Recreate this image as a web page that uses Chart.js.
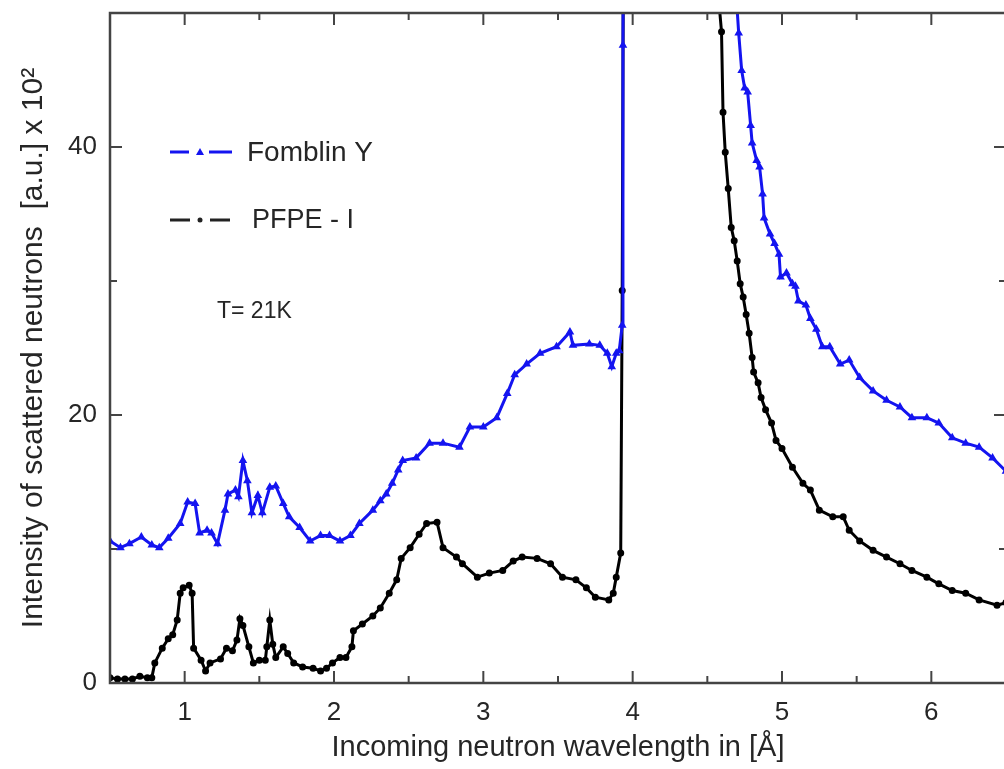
<!DOCTYPE html>
<html>
<head>
<meta charset="utf-8">
<script src="https://cdn.jsdelivr.net/npm/chart.js@4.4.1/dist/chart.umd.min.js"></script>
<style>
  html, body { margin: 0; padding: 0; background: #fff; overflow: hidden; }
  #wrap { width: 1004px; height: 769px; overflow: hidden; }
  canvas { display: block; }
</style>
</head>
<body>
<div id="wrap"><canvas id="c" width="1012" height="769"></canvas></div>
<script>
// wavelength in Angstrom, intensity in a.u. x 10^2 (values above 50 run off the top)
const fomblinX = [0.50, 0.57, 0.63, 0.71, 0.78, 0.83, 0.89, 0.97, 1.02, 1.07, 1.10, 1.15, 1.18, 1.22,
  1.27, 1.29, 1.34, 1.36, 1.39, 1.42, 1.45, 1.49, 1.52, 1.57, 1.61, 1.66, 1.70, 1.77, 1.84, 1.91,
  1.97, 2.04, 2.11, 2.17, 2.26, 2.31, 2.35, 2.39, 2.43, 2.46, 2.55, 2.64, 2.73, 2.84, 2.91, 3.00,
  3.09, 3.16, 3.21, 3.29, 3.38, 3.49, 3.58, 3.60, 3.71, 3.78, 3.83, 3.86, 3.89, 3.91, 3.93, 3.935,
  3.95, 4.30, 4.67, 4.70, 4.71, 4.73, 4.75, 4.77, 4.79, 4.80, 4.83, 4.85, 4.87, 4.88, 4.92, 4.95,
  4.98, 4.99, 5.03, 5.07, 5.09, 5.11, 5.16, 5.19, 5.23, 5.27, 5.32, 5.39, 5.45, 5.52, 5.61, 5.70,
  5.79, 5.87, 5.97, 6.05, 6.14, 6.23, 6.32, 6.41, 6.50];
const fomblinY = [10.6, 10.1, 10.4, 10.9, 10.3, 10.1, 10.8, 11.9, 13.5, 13.4, 11.2, 11.4, 11.2, 10.4,
  12.9, 14.1, 14.4, 13.9, 16.6, 15.1, 12.7, 14.0, 12.7, 14.6, 14.7, 13.4, 12.4, 11.6, 10.6, 11.0,
  11.0, 10.6, 11.0, 11.9, 12.9, 13.6, 14.1, 14.9, 15.9, 16.6, 16.8, 17.9, 17.9, 17.6, 19.1, 19.1,
  19.8, 21.6, 23.0, 23.8, 24.6, 25.1, 26.2, 25.2, 25.3, 25.2, 24.6, 23.6, 24.6, 24.8, 26.7, 47.6,
  95, 140, 95, 50.2, 48.5, 45.7, 44.4, 44.1, 41.6, 40.3, 39.0, 38.5, 36.5, 34.7, 33.5, 32.8,
  32.0, 30.3, 30.6, 29.8, 29.6, 28.5, 28.2, 27.2, 26.4, 25.1, 25.1, 23.8, 24.1, 22.8, 21.8, 21.1,
  20.6, 19.8, 19.8, 19.4, 18.3, 17.9, 17.6, 16.8, 15.8];

const pfpeX = [0.50, 0.55, 0.60, 0.65, 0.70, 0.75, 0.78, 0.80, 0.85, 0.89, 0.92, 0.95, 0.97, 0.99,
  1.03, 1.05, 1.06, 1.11, 1.14, 1.17, 1.24, 1.28, 1.32, 1.35, 1.37, 1.39, 1.43, 1.46, 1.50, 1.54,
  1.55, 1.57, 1.59, 1.61, 1.66, 1.69, 1.73, 1.79, 1.86, 1.91, 1.95, 1.99, 2.04, 2.08, 2.12, 2.13,
  2.19, 2.26, 2.31, 2.37, 2.42, 2.45, 2.51, 2.57, 2.62, 2.69, 2.73, 2.82, 2.86, 2.96, 3.04, 3.13,
  3.20, 3.26, 3.36, 3.45, 3.53, 3.62, 3.69, 3.75, 3.84, 3.87, 3.89, 3.92, 3.93, 3.95, 4.25, 4.55,
  4.58, 4.595, 4.605, 4.62, 4.64, 4.66, 4.68, 4.70, 4.72, 4.74, 4.76, 4.78, 4.80, 4.81, 4.84, 4.86,
  4.89, 4.93, 4.96, 5.00, 5.07, 5.14, 5.19, 5.25, 5.34, 5.41, 5.45, 5.52, 5.61, 5.70, 5.79, 5.87,
  5.97, 6.05, 6.14, 6.23, 6.32, 6.44, 6.50];
const pfpeY = [0.4, 0.3, 0.3, 0.3, 0.5, 0.4, 0.4, 1.5, 2.6, 3.3, 3.6, 4.7, 6.7, 7.1,
  7.3, 6.7, 2.6, 1.7, 0.9, 1.5, 1.8, 2.6, 2.4, 3.2, 4.8, 4.3, 2.7, 1.5, 1.7, 1.7,
  2.7, 4.7, 2.9, 1.9, 2.7, 2.2, 1.5, 1.2, 1.1, 0.9, 1.1, 1.5, 1.9, 1.9, 2.7, 3.9,
  4.4, 5.0, 5.6, 6.7, 7.7, 9.3, 10.1, 11.1, 11.9, 12.0, 10.1, 9.4, 8.9, 7.9, 8.2, 8.4,
  9.1, 9.4, 9.3, 8.9, 7.9, 7.7, 7.1, 6.4, 6.2, 6.7, 7.9, 9.7, 29.3, 95, 140, 90,
  50.5, 48.6, 42.6, 39.6, 36.9, 34.0, 33.0, 31.5, 29.8, 28.8, 27.5, 26.1, 24.3, 23.2, 22.4, 21.3,
  20.4, 19.4, 18.1, 17.5, 16.1, 14.9, 14.4, 12.9, 12.4, 12.4, 11.4, 10.6, 9.9, 9.4, 8.9, 8.4,
  7.9, 7.4, 6.9, 6.7, 6.2, 5.8, 6.0];

const xLabelled = [1, 2, 3, 4, 5, 6];
const yLabelled = [0, 20, 40];

const FONT = '"Liberation Sans", Arial, sans-serif';
const BLUE = '#1414f0';
const INK = '#262626';

function toPoints(xs, ys) {
  return xs.map((x, i) => ({ x, y: ys[i] }));
}

// box frame with inward ticks on all four sides, plus the in-plot legend and label
const frameTicks = {
  id: 'frameTicks',
  afterDraw(chart) {
    const { ctx, chartArea: a, scales: { x, y } } = chart;
    ctx.save();
    ctx.strokeStyle = '#444';
    ctx.lineWidth = 2.5;
    ctx.strokeRect(a.left, a.top, a.right - a.left, a.bottom - a.top);
    ctx.lineWidth = 2;
    ctx.beginPath();
    for (const t of x.ticks) {
      const len = Number.isInteger(t.value) ? 12 : 7;
      const px = x.getPixelForValue(t.value);
      ctx.moveTo(px, a.bottom); ctx.lineTo(px, a.bottom - len);
      ctx.moveTo(px, a.top); ctx.lineTo(px, a.top + len);
    }
    for (const t of y.ticks) {
      const len = t.value % 20 === 0 ? 12 : 7;
      const py = y.getPixelForValue(t.value);
      ctx.moveTo(a.left, py); ctx.lineTo(a.left + len, py);
      ctx.moveTo(a.right, py); ctx.lineTo(a.right - len, py);
    }
    ctx.stroke();

    // legend samples
    ctx.lineWidth = 3;
    ctx.strokeStyle = BLUE;
    ctx.beginPath();
    ctx.moveTo(170, 152); ctx.lineTo(189, 152);
    ctx.moveTo(209, 152); ctx.lineTo(232, 152);
    ctx.stroke();
    ctx.fillStyle = BLUE;
    ctx.beginPath();
    ctx.moveTo(200, 148); ctx.lineTo(204, 155); ctx.lineTo(196, 155); ctx.closePath();
    ctx.fill();

    ctx.strokeStyle = '#222';
    ctx.beginPath();
    ctx.moveTo(170, 220); ctx.lineTo(190, 220);
    ctx.moveTo(210, 220); ctx.lineTo(230, 220);
    ctx.stroke();
    ctx.fillStyle = '#222';
    ctx.beginPath();
    ctx.arc(200, 220, 2.5, 0, Math.PI * 2);
    ctx.fill();

    ctx.fillStyle = INK;
    ctx.textBaseline = 'middle';
    ctx.font = '28px ' + FONT;
    ctx.fillText('Fomblin Y', 247, 153);
    ctx.font = '27px ' + FONT;
    ctx.fillText('PFPE - I', 252, 221);
    ctx.font = '23px ' + FONT;
    ctx.fillText('T= 21K', 217, 312);
    ctx.restore();
  },
};

new Chart(document.getElementById('c'), {
  type: 'line',
  data: {
    datasets: [
      {
        label: 'Fomblin Y',
        data: toPoints(fomblinX, fomblinY),
        borderColor: BLUE,
        backgroundColor: BLUE,
        borderWidth: 3,
        pointStyle: 'triangle',
        pointRadius: 2,
        pointHoverRadius: 2,
        tension: 0,
      },
      {
        label: 'PFPE - I',
        data: toPoints(pfpeX, pfpeY),
        borderColor: '#000',
        backgroundColor: '#000',
        borderWidth: 3,
        pointRadius: 2,
        pointHoverRadius: 2,
        tension: 0,
      },
    ],
  },
  options: {
    responsive: false,
    animation: false,
    layout: { padding: { top: 13, right: 6, left: 0, bottom: 0 } },
    plugins: { legend: { display: false }, tooltip: { enabled: false } },
    scales: {
      x: {
        type: 'linear',
        min: 0.5,
        max: 6.5,
        grid: { display: false, drawTicks: false },
        border: { display: false },
        ticks: {
          stepSize: 0.5,
          autoSkip: false,
          maxRotation: 0,
          padding: 14,
          color: INK,
          font: { family: FONT, size: 26 },
          callback: (v) => (xLabelled.includes(v) ? String(v) : ''),
        },
        title: {
          display: true,
          text: 'Incoming neutron wavelength in [Å]',
          color: INK,
          font: { family: FONT, size: 29 },
          padding: { top: 0, bottom: 4 },
        },
        afterFit(s) { s.height = 86; s.paddingLeft = 0; s.paddingRight = 0; },
      },
      y: {
        min: 0,
        max: 50,
        grid: { display: false, drawTicks: false },
        border: { display: false },
        ticks: {
          stepSize: 10,
          autoSkip: false,
          padding: 13,
          color: INK,
          font: { family: FONT, size: 26 },
          callback: (v) => (yLabelled.includes(v) ? String(v) : ''),
        },
        title: {
          display: true,
          text: 'Intensity of scattered neutrons  [a.u.] x 10²',
          color: INK,
          font: { family: FONT, size: 30 },
          padding: { top: 16, bottom: 0 },
        },
        afterFit(s) { s.width = 110; s.paddingTop = 0; s.paddingBottom = 0; },
      },
    },
  },
  plugins: [frameTicks],
});
</script>
</body>
</html>
